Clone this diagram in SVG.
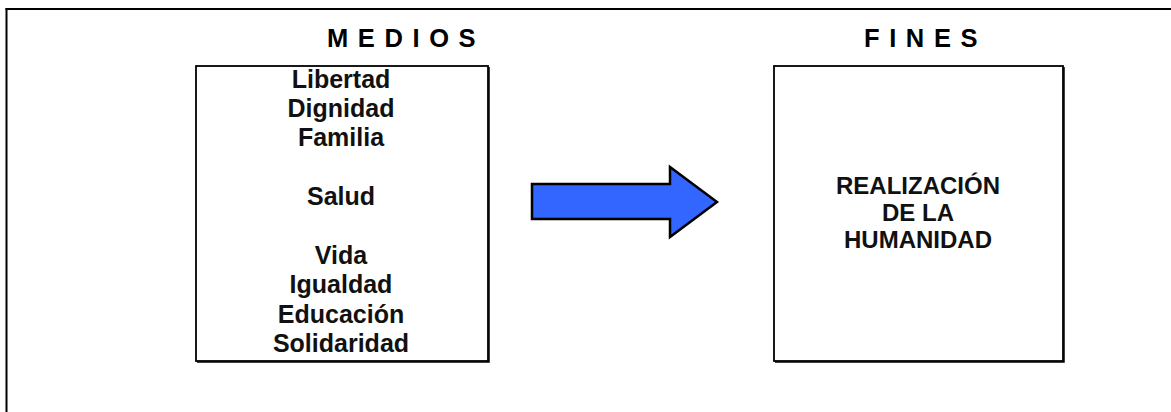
<svg xmlns="http://www.w3.org/2000/svg" width="1171" height="412" viewBox="0 0 1171 412">
<style>
  .frame { stroke: #000; stroke-width: 2; fill: none; }
  .box { fill: #fff; stroke: #000; stroke-width: 1.8; }
  .shade { stroke: #000; stroke-width: 1.5; fill: none; }
  .title { font-family: "Liberation Sans", Arial, sans-serif; font-weight: bold; font-size: 25.5px; letter-spacing: 9.6px; fill: #000; }
  .item { font-family: "Liberation Sans", Arial, sans-serif; font-weight: bold; font-size: 25px; fill: #111; text-anchor: middle; }
  .goal { font-family: "Liberation Sans", Arial, sans-serif; font-weight: bold; font-size: 24px; fill: #111; text-anchor: middle; }
  .arrow { fill: #3366FF; stroke: #000; stroke-width: 2.5; stroke-linejoin: miter; }
</style>
<rect width="1171" height="412" fill="#fff"/>
<g id="frame">
  <line class="frame" x1="5.5" y1="9" x2="1171" y2="9"/>
  <line class="frame" x1="6.5" y1="8" x2="6.5" y2="412"/>
</g>
<g id="medios">
  <text class="title" x="327" y="46.5">MEDIOS</text>
  <rect class="box" x="196" y="66" width="292" height="295"/>
  <polyline class="shade" points="197,362 489,362 489,67"/>
  <text class="item" x="341" y="88">Libertad</text>
  <text class="item" x="341" y="117">Dignidad</text>
  <text class="item" x="341" y="146">Familia</text>
  <text class="item" x="341" y="205">Salud</text>
  <text class="item" x="341" y="264">Vida</text>
  <text class="item" x="341" y="293">Igualdad</text>
  <text class="item" x="341" y="323">Educación</text>
  <text class="item" x="341" y="352">Solidaridad</text>
</g>
<g id="fines">
  <text class="title" x="864" y="46.5">FINES</text>
  <rect class="box" x="774" y="66" width="289" height="295"/>
  <polyline class="shade" points="775,362 1064,362 1064,67"/>
  <text class="goal" x="918" y="194">REALIZACIÓN</text>
  <text class="goal" x="918" y="221">DE LA</text>
  <text class="goal" x="918" y="248">HUMANIDAD</text>
</g>
<g id="connectors">
  <polygon class="arrow" points="532,184 670,184 670,167 717,202 670,237 670,219 532,219"/>
</g>
</svg>
